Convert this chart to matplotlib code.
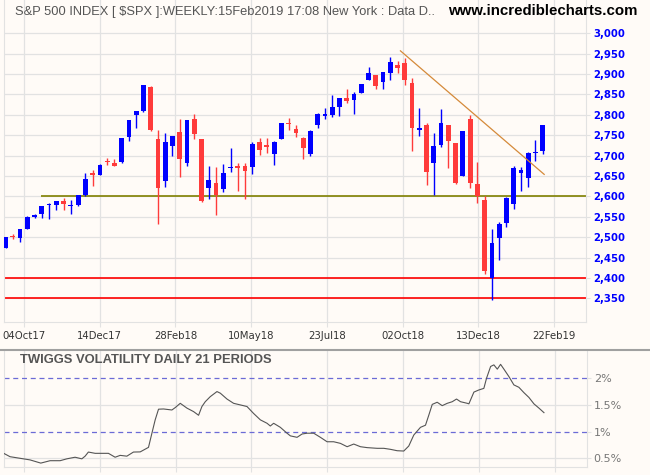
import numpy as np
import matplotlib.pyplot as plt
from matplotlib.lines import Line2D

# S&P 500 weekly candles, one per week from the week of 11 Sep 2017 to 11 Feb 2019
opens = [2474.5, 2502.5, 2498.5, 2521.2, 2550.2, 2555.6, 2578.1, 2577.8, 2587.5, 2576.5,
         2579.5, 2602.7, 2657.2, 2652.2, 2685.9, 2682.1, 2683.7, 2745.6, 2799.0, 2809.2,
         2867.2, 2741.1, 2636.8, 2723.0, 2757.4, 2681.1, 2790.5, 2741.4, 2619.4, 2633.5,
         2617.2, 2670.1, 2675.4, 2674.0, 2672.0, 2733.0, 2725.0, 2705.1, 2741.7, 2780.2,
         2765.8, 2742.9, 2705.0, 2775.6, 2798.0, 2799.2, 2819.0, 2840.3, 2835.5, 2853.9,
         2884.7, 2898.4, 2881.4, 2903.8, 2921.8, 2926.3, 2877.5, 2763.8, 2773.9, 2682.7,
         2726.4, 2773.9, 2730.7, 2650.0, 2790.5, 2630.9, 2590.8, 2400.6, 2498.9, 2535.6,
         2582.1, 2657.9, 2644.9, 2706.5, 2712.4]
highs = [2500.2, 2508.9, 2519.4, 2552.5, 2557.7, 2575.4, 2583.0, 2588.4, 2597.0, 2590.1,
         2604.2, 2657.7, 2665.2, 2679.6, 2695.0, 2692.1, 2743.5, 2787.9, 2810.3, 2872.9,
         2870.6, 2763.4, 2754.4, 2747.8, 2789.2, 2786.6, 2801.9, 2741.4, 2674.8, 2672.1,
         2680.3, 2717.5, 2682.9, 2682.9, 2732.9, 2742.1, 2742.2, 2736.9, 2779.9, 2791.5,
         2775.0, 2746.1, 2763.4, 2804.5, 2816.4, 2848.0, 2842.0, 2863.4, 2857.0, 2876.2,
         2916.5, 2898.4, 2906.0, 2940.9, 2931.4, 2939.9, 2889.5, 2816.9, 2779.0, 2756.6,
         2815.2, 2776.0, 2731.3, 2760.9, 2800.2, 2685.4, 2601.1, 2520.3, 2538.1, 2597.8,
         2675.5, 2672.4, 2709.0, 2739.0, 2775.7]
lows = [2474.5, 2496.7, 2488.0, 2520.4, 2547.9, 2547.9, 2543.4, 2566.3, 2566.3, 2557.5,
        2575.5, 2600.7, 2624.8, 2651.5, 2676.1, 2673.6, 2682.4, 2736.1, 2768.6, 2808.1,
        2760.0, 2532.7, 2622.5, 2698.0, 2647.3, 2675.0, 2741.4, 2585.9, 2593.1, 2553.8,
        2610.8, 2660.0, 2612.7, 2594.6, 2655.2, 2702.0, 2707.4, 2676.8, 2741.7, 2763.0,
        2745.0, 2692.0, 2699.0, 2768.0, 2789.2, 2795.1, 2798.0, 2828.0, 2802.5, 2853.0,
        2884.7, 2864.1, 2864.1, 2886.2, 2903.3, 2874.0, 2710.5, 2749.0, 2628.0, 2603.5,
        2722.0, 2670.8, 2631.1, 2649.0, 2621.5, 2583.2, 2408.6, 2346.6, 2444.0, 2524.6,
        2569.0, 2613.0, 2624.0, 2687.3, 2704.1]
closes = [2500.2, 2502.2, 2519.4, 2549.3, 2553.2, 2575.2, 2581.1, 2587.8, 2582.3, 2578.9,
          2602.4, 2642.2, 2651.5, 2675.8, 2683.3, 2673.6, 2743.2, 2786.2, 2810.3, 2872.9,
          2762.1, 2619.6, 2732.2, 2747.3, 2691.3, 2786.6, 2752.0, 2588.3, 2640.9, 2604.5,
          2656.3, 2670.2, 2669.9, 2663.4, 2727.7, 2713.0, 2721.3, 2734.6, 2779.0, 2779.7,
          2754.9, 2718.4, 2759.8, 2801.3, 2801.8, 2818.8, 2840.4, 2833.3, 2850.1, 2874.7,
          2901.5, 2871.7, 2905.0, 2929.7, 2914.0, 2885.6, 2767.1, 2767.8, 2658.7, 2723.1,
          2781.0, 2736.3, 2632.6, 2760.2, 2633.1, 2600.0, 2416.6, 2485.7, 2531.9, 2596.3,
          2670.7, 2664.8, 2706.5, 2707.9, 2775.6]

date_labels = ['04Oct17', '14Dec17', '28Feb18', '10May18', '23Jul18', '02Oct18', '13Dec18', '22Feb19']
price_ticks = list(range(2350, 3001, 50))

support_level = 2600
support_start = 4.9
stop_levels = [2400, 2350]
trend_weeks = [54.4, 74.2]
trend_prices = [2957, 2654]

# Twiggs volatility (daily, 21 periods), sampled along the weekly axis
vol_week = [-0.21, 0.62, 2.0, 3.37, 4.85, 6.13, 7.51, 8.43, 9.57, 10.5,
            10.95, 11.4, 12.33, 13.25, 14.16, 15.08, 15.77, 16.69, 17.6, 18.53,
            19.67, 20.14, 20.59, 21.05, 21.74, 22.89, 23.35, 24.04, 24.96, 25.87,
            26.56, 27.02, 27.48, 28.17, 29.09, 29.55, 30.47, 31.38, 32.3, 33.22,
            34.13, 35.06, 35.98, 36.43, 36.89, 37.81, 38.73, 39.19, 40.11, 40.8,
            41.49, 42.4, 43.32, 44.24, 45.15, 46.07, 47.0, 47.91, 48.83, 49.75,
            51.13, 52.04, 52.96, 53.88, 54.79, 55.48, 56.17, 57.09, 57.78, 58.24,
            58.71, 59.39, 60.08, 60.77, 61.46, 62.05, 62.6, 63.53, 63.75, 64.44,
            65.12, 65.81, 66.18, 66.74, 67.19, 67.66, 68.11, 68.57, 69.26, 69.94,
            70.63, 71.32, 72.01, 72.7, 73.39, 74.08]
vol_pct = [0.59, 0.53, 0.50, 0.47, 0.41, 0.455, 0.455, 0.49, 0.52, 0.49,
           0.54, 0.617, 0.593, 0.593, 0.593, 0.52, 0.555, 0.54, 0.617, 0.62,
           0.705, 0.97, 1.22, 1.42, 1.424, 1.405, 1.45, 1.53, 1.44, 1.375,
           1.306, 1.47, 1.56, 1.655, 1.75, 1.72, 1.61, 1.53, 1.50, 1.47,
           1.34, 1.22, 1.156, 1.105, 1.156, 1.08, 0.97, 0.92, 0.893, 0.955,
           0.97, 0.97, 0.893, 0.81, 0.81, 0.78, 0.717, 0.767, 0.717, 0.70,
           0.687, 0.687, 0.668, 0.642, 0.636, 0.73, 0.936, 1.08, 1.12, 1.31,
           1.51, 1.55, 1.486, 1.53, 1.56, 1.61, 1.56, 1.53, 1.52, 1.74,
           1.78, 1.81, 2.0, 2.22, 2.25, 2.17, 2.26, 2.17, 2.03, 1.875,
           1.83, 1.73, 1.64, 1.52, 1.44, 1.355]
vol_ticks = [0.5, 1, 1.5, 2]
vol_labels = ['0.5%', '1%', '1.5%', '2%']

BG = '#FFFBF7'
GRID = '#E2E2E2'
BLUE = '#0000FF'
RED = '#FF3B3B'

W, H = 650, 475


def box(x0, y0, x1, y1):
    # pixel box (top-left origin) -> figure fraction rect
    return [x0 / W, 1 - y1 / H, (x1 - x0) / W, (y1 - y0) / H]


fig = plt.figure(figsize=(W / 100, H / 100), dpi=100, facecolor=BG)
ax = fig.add_axes(box(4, 0, 586, 322), facecolor=BG)
ax2 = fig.add_axes(box(4, 351, 586.7, 467), facecolor=BG)

xlim = (-0.21, 79.96)
grid_x = [2.55 + 10.43 * k for k in range(len(date_labels))]

# --- price panel ---
x = np.arange(len(opens))
o = np.array(opens)
c = np.array(closes)
colors = np.where(c >= o, BLUE, RED)
ax.vlines(x, lows, highs, colors=colors, lw=1.0, zorder=3)
body = np.abs(c - o)
bottom = np.where(body < 2.5, (o + c) / 2 - 1.25, np.minimum(o, c))
ax.bar(x, np.maximum(body, 2.5), 0.66, bottom=bottom, color=colors, lw=0, zorder=4)

ax.hlines(support_level, support_start, xlim[1], color='#808000', lw=1.2, zorder=2)
for lvl in stop_levels:
    ax.axhline(lvl, color='#FF0000', lw=1.2, zorder=2)
ax.plot(trend_weeks, trend_prices, color='#D58A3A', lw=0.9, zorder=5)

ax.set_xlim(*xlim)
ax.set_ylim(2291.9, 3081.7)
ax.set_xticks(grid_x)
ax.set_xticklabels(date_labels)
ax.set_yticks(price_ticks)
ax.set_yticklabels([f'{p:,}' for p in price_ticks])
ax.yaxis.tick_right()
ax.grid(True, color=GRID, lw=0.9, zorder=0)
ax.tick_params(axis='x', direction='out', length=3.5, color=GRID, pad=3,
               labelsize=7.3, labelcolor='#333333')
ax.tick_params(axis='y', direction='out', length=3, color=GRID, pad=2,
               labelsize=7.3, labelcolor=BLUE)
for lab in ax.get_yticklabels():
    lab.set_fontweight('bold')
for s in ax.spines.values():
    s.set_color(GRID)
ax.spines['top'].set_visible(False)

# --- volatility panel ---
ax2.plot(vol_week, vol_pct, color='#555555', lw=0.8, zorder=4)
ax2.set_xlim(*xlim)
ax2.set_ylim(0.337, 2.51)
ax2.set_xticks(grid_x)
ax2.set_xticklabels([])
ax2.set_yticks(vol_ticks)
ax2.set_yticklabels(vol_labels)
ax2.yaxis.tick_right()
for v in vol_ticks:
    if v in (1, 2):
        ax2.axhline(v, color='#6B6BD6', lw=0.9, ls=(0, (4, 3)), zorder=2)
    else:
        ax2.axhline(v, color=GRID, lw=0.9, zorder=1)
ax2.xaxis.grid(True, color=GRID, lw=0.9, zorder=0)
ax2.tick_params(axis='x', direction='out', length=3.5, color=GRID)
ax2.tick_params(axis='y', direction='out', length=3, color=GRID, pad=2,
                labelsize=8, labelcolor='#777777')
for s in ax2.spines.values():
    s.set_color(GRID)
ax2.spines['top'].set_visible(False)

fig.add_artist(Line2D([0, 1], [1 - 350 / H, 1 - 350 / H], transform=fig.transFigure,
                      color='#A0A0A0', lw=1.5))

# --- titles ---
fig.text(15 / W, 1 - 15 / H, 'S&P 500 INDEX [ $SPX ]:WEEKLY:15Feb2019 17:08 New York : Data D..',
         ha='left', va='baseline', fontsize=9.3, color='#555555', family='Liberation Sans')
fig.text(637 / W, 1 - 15 / H, 'www.incrediblecharts.com', ha='right', va='baseline',
         fontsize=10.8, fontweight='bold', color='black', family='Liberation Sans')
fig.text(20 / W, 1 - 362.7 / H, 'TWIGGS VOLATILITY DAILY 21 PERIODS', ha='left', va='baseline',
         fontsize=9.4, fontweight='bold', color='#555555', family='Liberation Sans')

fig.savefig('out.png', dpi=100, facecolor=BG)
